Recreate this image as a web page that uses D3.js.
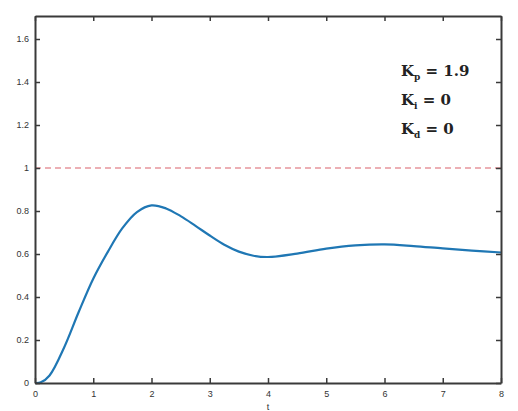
<!DOCTYPE html>
<html>
<head>
<meta charset="utf-8">
<script src="https://cdn.jsdelivr.net/npm/d3@7"></script>
<style>
  body { margin: 0; background: #fff; }
  .tick text { font-family: "Liberation Sans", Arial, sans-serif; font-size: 9px; fill: #333; }
</style>
</head>
<body>
<div id="chart"></div>
<script>
var chart_width = 518
var chart_height = 411
var margin = { left: 35, right: 17, top: 16, bottom: 28 }

// step response
var t_values = [0, 0.1, 0.25, 0.5, 0.75, 1, 1.25, 1.5, 1.75, 2, 2.25, 2.5, 2.75, 3, 3.25, 3.5, 3.75, 4, 4.5, 5, 5.5, 6, 6.5, 7, 7.5, 8]
var y_values = [0, 0.003, 0.035, 0.165, 0.33, 0.485, 0.61, 0.72, 0.795, 0.826, 0.812, 0.776, 0.732, 0.686, 0.643, 0.611, 0.592, 0.586, 0.602, 0.625, 0.64, 0.645, 0.637, 0.626, 0.616, 0.607]
var setpoint = 1
var x_ticks = [0, 1, 2, 3, 4, 5, 6, 7, 8]
var y_ticks = [0, 0.2, 0.4, 0.6, 0.8, 1, 1.2, 1.4, 1.6]
var gain_names = ['p', 'i', 'd']
var gain_values = ['1.9', '0', '0']

var svg = d3.select('#chart')
  .append('svg')
  .attr('width', chart_width)
  .attr('height', chart_height)

var x_scale = d3.scaleLinear()
  .domain([0, 8])
  .range([margin.left, chart_width - margin.right])

var y_scale = d3.scaleLinear()
  .domain([0, 1.707])
  .range([chart_height - margin.bottom, margin.top])

var data = t_values.map((t, i) => ({ t: t, y: y_values[i] }))

// setpoint line
svg.append('line')
  .attr('x1', x_scale(0))
  .attr('x2', x_scale(8))
  .attr('y1', y_scale(setpoint))
  .attr('y2', y_scale(setpoint))
  .attr('stroke', '#d9606a')
  .attr('stroke-width', 1.2)
  .attr('stroke-dasharray', '6,4')

// response curve
var line = d3.line()
  .x(d => x_scale(d.t))
  .y(d => y_scale(d.y))
  .curve(d3.curveCatmullRom.alpha(0.5))

svg.append('path')
  .datum(data)
  .attr('fill', 'none')
  .attr('stroke', '#1f77b4')
  .attr('stroke-width', 2.2)
  .attr('stroke-linejoin', 'round')
  .attr('d', line)

// axes, ticks pointing inward like matlab
function style_axis(g) {
  g.select('.domain').attr('stroke', '#3a3a3a').attr('stroke-width', 2)
  g.selectAll('.tick line').attr('stroke', '#3a3a3a').attr('stroke-width', 1.5)
}

svg.append('g')
  .attr('transform', 'translate(0,' + y_scale(0) + ')')
  .call(d3.axisBottom(x_scale).tickValues(x_ticks).tickSizeInner(-5).tickSizeOuter(0).tickPadding(8).tickFormat(d3.format('d')))
  .call(style_axis)

svg.append('g')
  .attr('transform', 'translate(0,' + y_scale(1.707) + ')')
  .call(d3.axisTop(x_scale).tickValues(x_ticks).tickSizeInner(-5).tickSizeOuter(0).tickFormat(''))
  .call(style_axis)

svg.append('g')
  .attr('transform', 'translate(' + x_scale(0) + ',0)')
  .call(d3.axisLeft(y_scale).tickValues(y_ticks).tickSizeInner(-5).tickSizeOuter(0).tickPadding(6).tickFormat(d => d3.format('')(+d.toFixed(1))))
  .call(style_axis)

svg.append('g')
  .attr('transform', 'translate(' + x_scale(8) + ',0)')
  .call(d3.axisRight(y_scale).tickValues(y_ticks).tickSizeInner(-5).tickSizeOuter(0).tickFormat(''))
  .call(style_axis)

// x label at the bottom edge
svg.append('text')
  .attr('x', x_scale(4))
  .attr('y', chart_height - 1)
  .attr('text-anchor', 'middle')
  .attr('font-family', 'Liberation Sans, Arial, sans-serif')
  .attr('font-size', 9)
  .attr('fill', '#333')
  .text('t')

// gain annotations
var gains = svg.append('g')
  .attr('font-family', 'DejaVu Serif, serif')
  .attr('font-weight', 'bold')
  .attr('fill', '#222')

gain_names.forEach(function(name, i) {
  var txt = gains.append('text')
    .attr('x', 401)
    .attr('y', 76 + i * 29)
    .attr('font-size', 15)
  txt.append('tspan').text('K')
  txt.append('tspan').attr('font-size', 9).attr('dy', 4).text(name)
  txt.append('tspan').attr('dy', -4).text(' = ' + gain_values[i])
})
</script>
</body>
</html>
